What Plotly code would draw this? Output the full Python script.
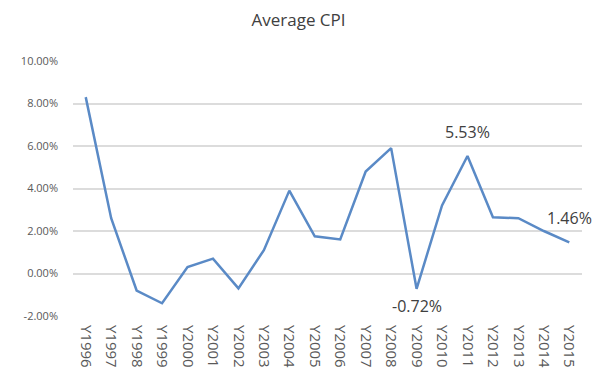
import plotly.graph_objects as go

years = ["Y1996", "Y1997", "Y1998", "Y1999", "Y2000", "Y2001", "Y2002", "Y2003",
         "Y2004", "Y2005", "Y2006", "Y2007", "Y2008", "Y2009", "Y2010", "Y2011",
         "Y2012", "Y2013", "Y2014", "Y2015"]
cpi = [8.3, 2.6, -0.8, -1.4, 0.3, 0.7, -0.7, 1.1, 3.9, 1.75, 1.6, 4.8, 5.9,
       -0.72, 3.2, 5.53, 2.65, 2.6, 2.0, 1.46]
y_ticks = [-2, 0, 2, 4, 6, 8, 10]
# years that carry a value label, and whether the label sits above (+1) or below (-1)
labelled = {"Y2009": -1, "Y2011": 1, "Y2015": 1}

fig = go.Figure()
fig.add_trace(go.Scatter(
    x=years, y=cpi, mode="lines",
    line=dict(color="#5A8AC6", width=2.5),
    showlegend=False, hoverinfo="x+y",
))

for yr, v in zip(years, cpi):
    if yr in labelled:
        side = labelled[yr]
        fig.add_annotation(
            x=yr, y=v, text=f"{v:.2f}%", showarrow=False,
            yshift=24 if side > 0 else -17,
            font=dict(family="Open Sans", size=16, color="#404040"),
        )

fig.update_layout(
    width=597, height=379,
    margin=dict(l=73, r=15, t=61, b=63),
    paper_bgcolor="white", plot_bgcolor="white",
    title=dict(text="Average CPI", x=0.5, xanchor="center", y=0.947, yanchor="middle",
               font=dict(family="Open Sans", size=17, color="#404040")),
    xaxis=dict(type="category", range=[-0.5, 19.5], tickangle=90,
               showgrid=False, showline=False, ticks="", automargin=False,
               ticklabelstandoff=8,
               tickfont=dict(family="Open Sans", size=15, color="#595959")),
    yaxis=dict(range=[-2, 10], tickvals=y_ticks,
               ticktext=[f"{v:.2f}%" for v in y_ticks],
               showgrid=True, gridcolor="#DCDCDC", gridwidth=1.5,
               zeroline=False, showline=False, ticks="", automargin=False,
               ticklabelstandoff=14,
               tickfont=dict(family="Open Sans", size=11, color="#595959")),
)

fig.write_html("out.html")
